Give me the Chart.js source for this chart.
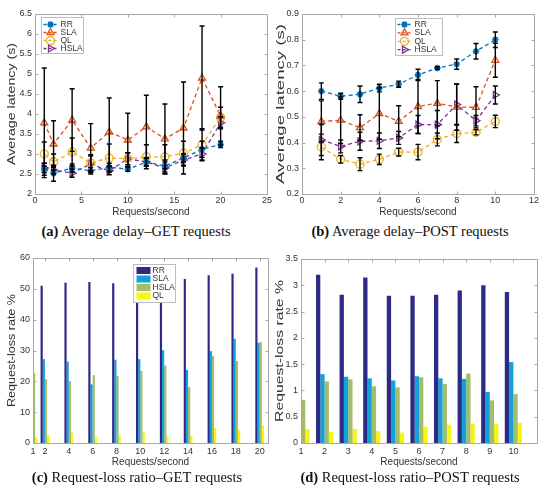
<!DOCTYPE html>
<html>
<head>
<meta charset="utf-8">
<script src="https://cdn.jsdelivr.net/npm/chart.js@4.4.1/dist/chart.umd.min.js"></script>
<style>
  body { margin: 0; background: #fff; }
  #fig { position: relative; width: 550px; height: 499px; overflow: hidden; }
  .pane { position: absolute; }
  .cap { position: absolute; font-family: "Liberation Serif", "DejaVu Serif", serif; font-size: 14.5px; color: #111;
         white-space: nowrap; transform: translate(-50%, -50%); }
</style>
</head>
<body>
<div id="fig">
  <div class="pane" style="left:0;top:0"><canvas id="cA" width="275" height="222"></canvas></div>
  <div class="pane" style="left:275px;top:0"><canvas id="cB" width="275" height="222"></canvas></div>
  <div class="pane" style="left:0;top:245px"><canvas id="cC" width="275" height="228"></canvas></div>
  <div class="pane" style="left:275px;top:245px"><canvas id="cD" width="275" height="228"></canvas></div>
  <div class="cap" style="left:136px;top:231px"><b>(a)</b> Average delay–GET requests</div>
  <div class="cap" style="left:410px;top:231px"><b>(b)</b> Average delay–POST requests</div>
  <div class="cap" style="left:137px;top:477px"><b>(c)</b> Request-loss ratio–GET requests</div>
  <div class="cap" style="left:410px;top:477px"><b>(d)</b> Request-loss ratio–POST requests</div>
</div>
<script>
// (a) average delay, GET
const getRate = [1, 2, 4, 6, 8, 10, 12, 14, 16, 18, 20];
const getRR   = [2.62, 2.52, 2.65, 2.58, 2.67, 2.62, 2.80, 2.70, 2.90, 3.12, 3.24];
const getSLA  = [3.78, 3.25, 3.85, 3.15, 3.55, 3.35, 3.68, 3.38, 3.65, 4.90, 3.95];
const getQL   = [3.00, 2.80, 3.05, 2.78, 2.90, 2.88, 2.93, 2.93, 3.02, 3.23, 3.92];
const getHSLA = [2.65, 2.60, 2.52, 2.75, 2.58, 2.88, 2.80, 2.65, 2.85, 3.00, 3.78];
const getRRErr   = [0.15, 0.20, 0.10, 0.08, 0.10, 0.05, 0.10, 0.15, 0.10, 0.20, 0.08];
const getSLAErr  = [1.37, 0.58, 0.78, 0.61, 0.85, 0.67, 0.79, 0.87, 1.15, 1.30, 0.73];
const getQLErr   = [0.30, 0.20, 0.35, 0.20, 0.35, 0.15, 0.30, 0.30, 0.30, 0.40, 0.25];
const getHSLAErr = [0.12, 0.10, 0.10, 0.20, 0.10, 0.15, 0.10, 0.15, 0.15, 0.15, 0.15];

// (b) average delay, POST
const postRate = [1, 2, 3, 4, 5, 6, 7, 8, 9, 10];
const postRR   = [0.600, 0.580, 0.588, 0.612, 0.627, 0.663, 0.690, 0.705, 0.755, 0.800];
const postSLA  = [0.482, 0.487, 0.458, 0.513, 0.483, 0.540, 0.553, 0.538, 0.537, 0.720];
const postQL   = [0.383, 0.335, 0.316, 0.335, 0.363, 0.363, 0.412, 0.435, 0.440, 0.482];
const postHSLA = [0.410, 0.385, 0.405, 0.407, 0.418, 0.470, 0.470, 0.548, 0.485, 0.585];
const postRRErr   = [0.032, 0.012, 0.032, 0.015, 0.012, 0.022, 0.005, 0.020, 0.030, 0.030];
const postSLAErr  = [0.080, 0.090, 0.050, 0.100, 0.060, 0.105, 0.088, 0.090, 0.080, 0.066];
const postQLErr   = [0.050, 0.015, 0.025, 0.020, 0.015, 0.030, 0.025, 0.035, 0.010, 0.024];
const postHSLAErr = [0.060, 0.025, 0.035, 0.030, 0.025, 0.035, 0.055, 0.080, 0.020, 0.035];

// (c) request-loss rate, GET
const lossGetRR   = [null, 51.0, 52.0, 52.2, 51.8, 52.0, 52.5, 53.2, 54.4, 54.9, 56.9];
const lossGetSLA  = [null, 27.2, 26.4, 19.0, 27.0, 27.2, 30.1, 23.7, 29.8, 33.8, 32.5];
const lossGetHSLA = [22.6, 20.7, 20.1, 22.0, 21.7, 23.4, 25.1, 18.1, 28.3, 26.6, 32.7];
const lossGetQL   = [1.7, 2.6, 3.4, 2.0, 2.5, 3.6, 2.3, 2.3, 4.9, 4.2, 5.7];

// (d) request-loss rate, POST
const lossPostRR   = [null, 3.20, 2.82, 3.15, 2.80, 2.80, 2.82, 2.90, 3.00, 2.87];
const lossPostSLA  = [null, 1.31, 1.26, 1.23, 1.19, 1.27, 1.23, 1.22, 0.97, 1.54];
const lossPostHSLA = [0.82, 1.17, 1.21, 1.08, 1.06, 1.25, 1.12, 1.32, 0.81, 0.93];
const lossPostQL   = [0.26, 0.21, 0.27, 0.23, 0.20, 0.31, 0.35, 0.37, 0.36, 0.38];

const FONT = '"Liberation Sans", Arial, sans-serif';
const TXT = '#333333';
const EDGE = '#a8a8a8';

// plugins: error bars, axis box with inward ticks, stretched y title, legend inside plot
const errorBars = {
  id: 'errorBars',
  afterDatasetsDraw(chart) {
    const ctx = chart.ctx, ys = chart.scales.y;
    ctx.save();
    ctx.strokeStyle = '#000';
    ctx.lineWidth = 1.4;
    chart.data.datasets.forEach((ds, i) => {
      if (!ds.errors) return;
      chart.getDatasetMeta(i).data.forEach((pt, j) => {
        const v = ds.data[j].y, e = ds.errors[j];
        const top = ys.getPixelForValue(v + e), bot = ys.getPixelForValue(v - e);
        ctx.beginPath();
        ctx.moveTo(pt.x, top); ctx.lineTo(pt.x, bot);
        ctx.moveTo(pt.x - 2.5, top); ctx.lineTo(pt.x + 2.5, top);
        ctx.moveTo(pt.x - 2.5, bot); ctx.lineTo(pt.x + 2.5, bot);
        ctx.stroke();
      });
    });
    ctx.restore();
  }
};

const frame = {
  id: 'frame',
  afterDraw(chart) {
    const { ctx, chartArea: a, scales } = chart;
    ctx.save();
    ctx.strokeStyle = EDGE;
    ctx.lineWidth = 1;
    const l = Math.round(a.left) + 0.5, t = Math.round(a.top) + 0.5;
    const r = Math.round(a.right) + 0.5, b = Math.round(a.bottom) + 0.5;
    ctx.strokeRect(l, t, r - l, b - t);
    ctx.beginPath();
    scales.x.ticks.forEach(tk => {
      const px = Math.round(scales.x.getPixelForValue(tk.value)) + 0.5;
      ctx.moveTo(px, b); ctx.lineTo(px, b - 3);
      ctx.moveTo(px, t); ctx.lineTo(px, t + 3);
    });
    scales.y.ticks.forEach(tk => {
      const py = Math.round(scales.y.getPixelForValue(tk.value)) + 0.5;
      ctx.moveTo(l, py); ctx.lineTo(l + 3, py);
      ctx.moveTo(r, py); ctx.lineTo(r - 3, py);
    });
    ctx.stroke();
    ctx.restore();
  }
};

const yTitle = {
  id: 'yTitle',
  afterDraw(chart, args, o) {
    const ctx = chart.ctx, a = chart.chartArea;
    ctx.save();
    ctx.font = '10px ' + FONT;
    ctx.fillStyle = TXT;
    ctx.textAlign = 'center';
    ctx.textBaseline = 'middle';
    ctx.translate(o.x, (a.top + a.bottom) / 2);
    ctx.rotate(-Math.PI / 2);
    const w = ctx.measureText(o.text).width;
    ctx.scale(o.len / w, 1);
    ctx.fillText(o.text, 0, 0);
    ctx.restore();
  }
};

const boxLegend = {
  id: 'boxLegend',
  afterDraw(chart, args, o) {
    if (!o.show) return;
    const ctx = chart.ctx, a = chart.chartArea;
    const x0 = Math.round(a.left + o.dx) + 0.5, y0 = Math.round(a.top + o.dy) + 0.5;
    ctx.save();
    ctx.fillStyle = '#fff';
    ctx.fillRect(x0, y0, o.w, o.h);
    ctx.strokeStyle = '#bdbdbd';
    ctx.lineWidth = 1;
    ctx.strokeRect(x0, y0, o.w, o.h);
    ctx.font = '8.5px ' + FONT;
    ctx.textBaseline = 'middle';
    chart.data.datasets.forEach((ds, k) => {
      const y = y0 + o.first + k * o.step;
      if (o.kind === 'line') {
        ctx.strokeStyle = ds.borderColor;
        ctx.lineWidth = 1.3;
        ctx.setLineDash([3, 2]);
        ctx.beginPath();
        ctx.moveTo(x0 + 2, y); ctx.lineTo(x0 + 16, y);
        ctx.stroke();
        ctx.setLineDash([]);
        ctx.fillStyle = 'rgba(0,0,0,0)';
        ctx.lineWidth = ds.pointBorderWidth;
        Chart.helpers.drawPoint(ctx, { pointStyle: ds.pointStyle, rotation: ds.pointRotation, radius: ds.pointRadius, borderWidth: ds.pointBorderWidth }, x0 + 9, y);
      } else {
        ctx.fillStyle = ds.backgroundColor;
        ctx.fillRect(x0 + 3, y - 3.5, 14, 7);
      }
      ctx.fillStyle = TXT;
      ctx.fillText(ds.label, x0 + 19, y);
    });
    ctx.restore();
  }
};

function lineSet(label, xs, ys, errs, color, style, rot) {
  return {
    label: label,
    data: xs.map((x, i) => ({ x: x, y: ys[i] })),
    errors: errs,
    borderColor: color,
    backgroundColor: color,
    borderWidth: 1.3,
    borderDash: [4, 3],
    pointStyle: style,
    pointRotation: rot || 0,
    pointRadius: style === 'star' ? 3.2 : 4,
    pointBorderColor: color,
    pointBackgroundColor: 'rgba(0,0,0,0)',
    pointBorderWidth: style === 'star' ? 1.8 : 1.3,
    tension: 0,
    fill: false
  };
}

function barSet(label, xs, ys, color) {
  return {
    label: label,
    data: xs.map((x, i) => ({ x: x, y: ys[i] })),
    backgroundColor: color,
    borderWidth: 0,
    categoryPercentage: 0.73,
    barPercentage: 1.0
  };
}

// MATLAB-style tick text: 6 instead of 6.0
const tickFormat = { minimumFractionDigits: 0, maximumFractionDigits: 2 };

function makeScales(p) {
  return {
    x: {
      type: 'linear', min: p.xmin, max: p.xmax, offset: false,
      grid: { display: false, drawTicks: false, offset: false },
      border: { display: false },
      ticks: { stepSize: p.xstep, padding: p.xpad, color: TXT, font: { family: FONT, size: 9 }, maxRotation: 0, autoSkip: false, format: tickFormat },
      afterBuildTicks: s => { if (p.xticks) s.ticks = p.xticks.map(v => ({ value: v })); },
      title: { display: true, text: 'Requests/second', color: TXT, font: { family: FONT, size: 10 }, padding: { top: 0, bottom: p.tpad } },
      afterFit: s => { s.height = p.xh; }
    },
    y: {
      type: 'linear', min: p.ymin, max: p.ymax,
      grid: { display: false, drawTicks: false },
      border: { display: false },
      ticks: { stepSize: p.ystep, padding: 3, color: TXT, font: { family: FONT, size: 9 }, format: tickFormat },
      afterFit: s => { s.width = p.yw; }
    }
  };
}

function makeChart(id, type, datasets, p, legend) {
  return new Chart(document.getElementById(id), {
    type: type,
    data: { datasets: datasets },
    options: {
      responsive: false,
      animation: false,
      events: [],
      layout: { autoPadding: false, padding: { left: 0, top: p.top, right: p.right, bottom: 0 } },
      scales: makeScales(p),
      plugins: {
        legend: { display: false },
        tooltip: { enabled: false },
        yTitle: { text: p.ytitle, x: p.tx, len: p.tlen },
        boxLegend: legend || { show: false }
      }
    },
    plugins: [errorBars, frame, yTitle, boxLegend]
  });
}

const C_RR = '#0072bd', C_SLA = '#d95319', C_QL = '#edb120', C_HSLA = '#7e2f8e';

makeChart('cA', 'line', [
  lineSet('RR', getRate, getRR, getRRErr, C_RR, 'star'),
  lineSet('SLA', getRate, getSLA, getSLAErr, C_SLA, 'triangle'),
  lineSet('QL', getRate, getQL, getQLErr, C_QL, 'circle'),
  lineSet('HSLA', getRate, getHSLA, getHSLAErr, C_HSLA, 'triangle', 90)
], { xmin: 0, xmax: 25, xstep: 5, ymin: 2, ymax: 6.5, ystep: 0.5, top: 14, right: 8, yw: 35, xh: 28, xpad: 1, tpad: 4,
     ytitle: 'Average latency (s)', tx: 12, tlen: 122 },
   { show: true, kind: 'line', dx: 6, dy: 3, w: 42, h: 36, first: 7, step: 8 });

makeChart('cB', 'line', [
  lineSet('RR', postRate, postRR, postRRErr, C_RR, 'star'),
  lineSet('SLA', postRate, postSLA, postSLAErr, C_SLA, 'triangle'),
  lineSet('QL', postRate, postQL, postQLErr, C_QL, 'circle'),
  lineSet('HSLA', postRate, postHSLA, postHSLAErr, C_HSLA, 'triangle', 90)
], { xmin: 0, xmax: 12, xstep: 2, ymin: 0.2, ymax: 0.9, ystep: 0.1, top: 14, right: 16, yw: 27, xh: 28, xpad: 1, tpad: 4,
     ytitle: 'Average latency (s)', tx: 6, tlen: 160 },
   { show: true, kind: 'line', dx: 93, dy: 4, w: 47, h: 37, first: 6, step: 8.4 });

makeChart('cC', 'bar', [
  barSet('RR', getRate, lossGetRR, '#2c2a86'),
  barSet('SLA', getRate, lossGetSLA, '#14a0d8'),
  barSet('HSLA', getRate, lossGetHSLA, '#a4bd6a'),
  barSet('QL', getRate, lossGetQL, '#f6f612')
], { xmin: 1, xmax: 20.7, xticks: getRate, ymin: 0, ymax: 60, ystep: 10, top: 13, right: 7, yw: 33, xh: 30, xpad: 3.5, tpad: 5,
     ytitle: 'Request-loss rate %', tx: 12, tlen: 113 },
   { show: true, kind: 'patch', dx: 100, dy: 6, w: 42, h: 38, first: 6, step: 8.5 });

makeChart('cD', 'bar', [
  barSet('RR', postRate, lossPostRR, '#2c2a86'),
  barSet('SLA', postRate, lossPostSLA, '#14a0d8'),
  barSet('HSLA', postRate, lossPostHSLA, '#a4bd6a'),
  barSet('QL', postRate, lossPostQL, '#f6f612')
], { xmin: 1, xmax: 11, xticks: postRate, ymin: 0, ymax: 3.5, ystep: 0.5, top: 14, right: 13, yw: 26, xh: 30, xpad: 3.5, tpad: 5,
     ytitle: 'Request-loss rate %', tx: 5, tlen: 142 });
</script>
</body>
</html>
